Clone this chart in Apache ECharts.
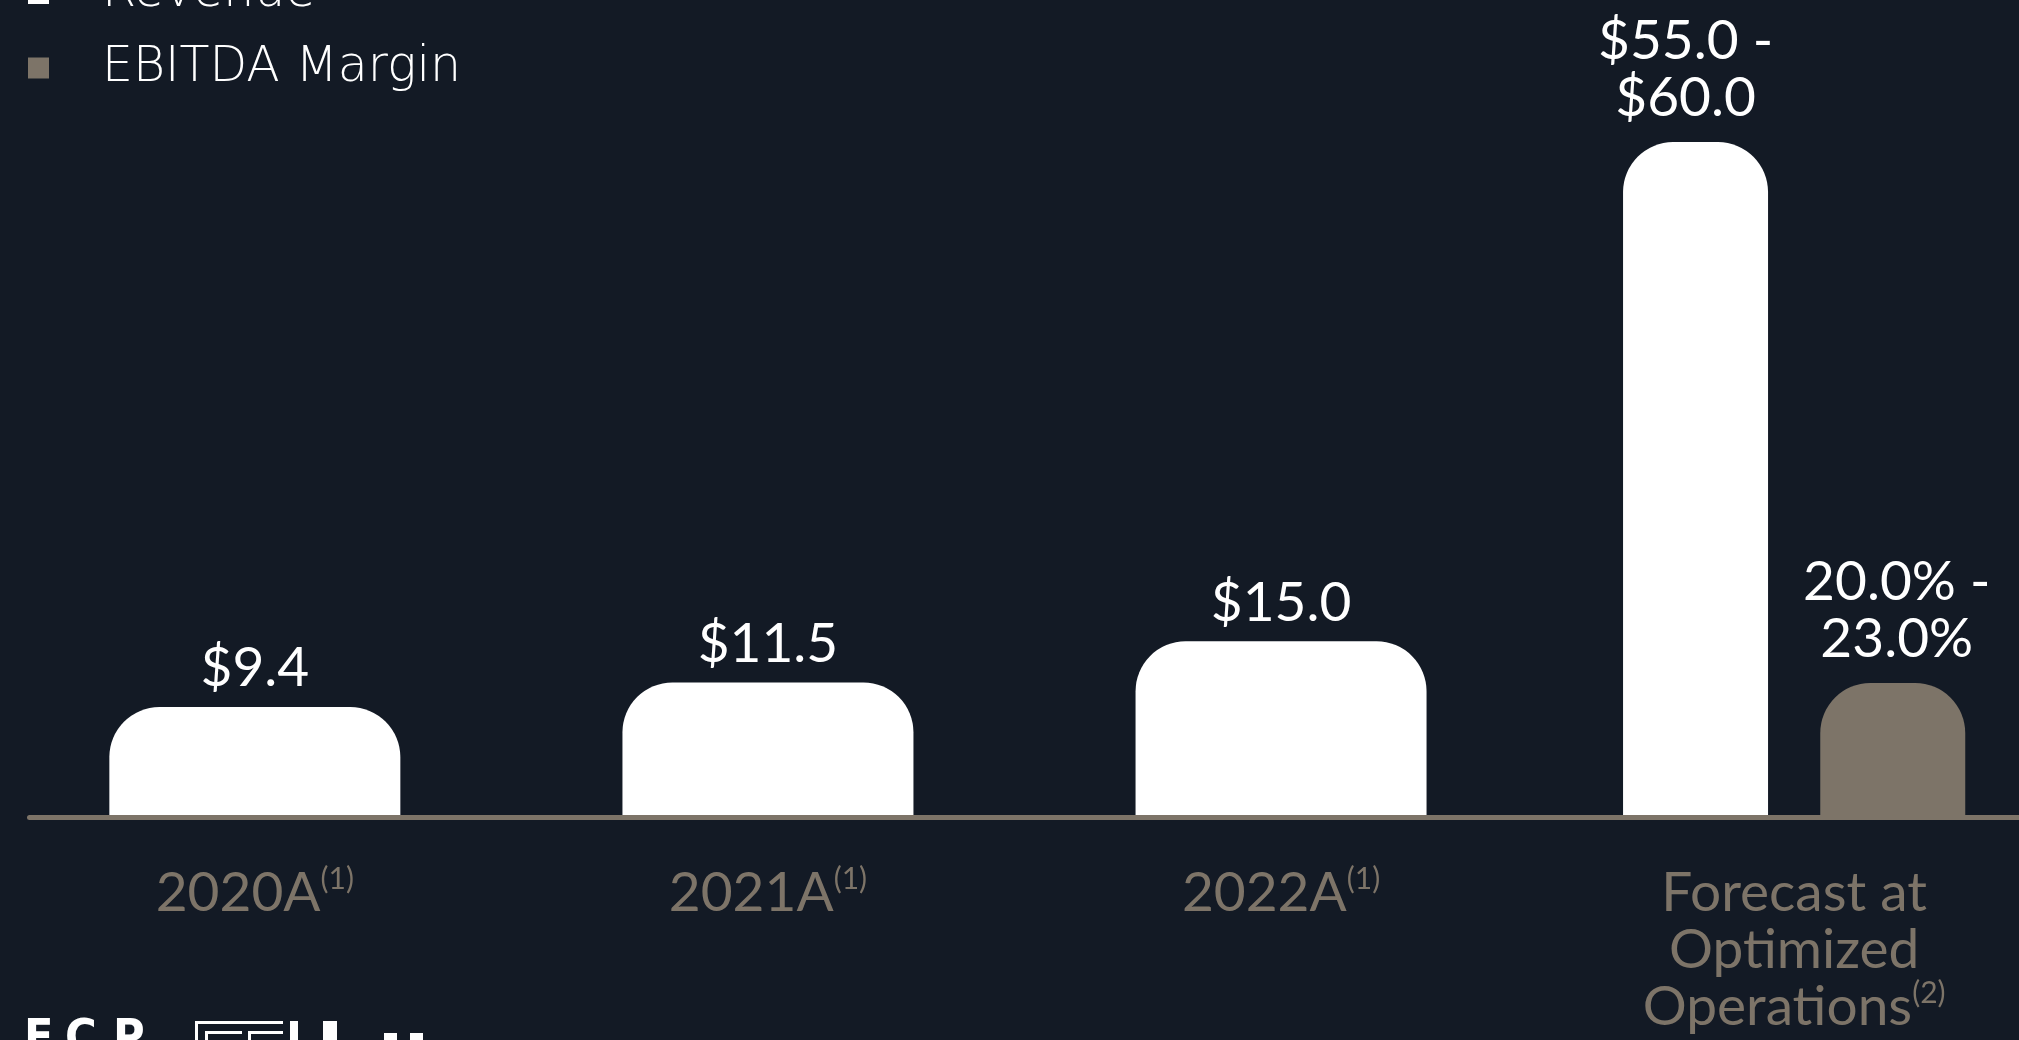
<!DOCTYPE html>
<html>
<head>
<meta charset="utf-8">
<script src="https://cdn.jsdelivr.net/npm/echarts@6/dist/echarts.min.js"></script>
<style>
  html, body { margin: 0; padding: 0; background: #131a25; }
  #chart { width: 2019px; height: 1040px; }
</style>
</head>
<body>
<div id="chart"></div>
<script>
// Revenue ($M) and EBITDA margin by period
const categories = ['2020A', '2021A', '2022A', 'Forecast at\nOptimized\nOperations'];
const footnotes = ['(1)', '(1)', '(1)', '(2)'];
const revenueActual = [9.4, 11.5, 15.0];
const revenueForecastRange = [55.0, 60.0];
const ebitdaMarginRange = [20.0, 23.0];

const BG = '#131a25';
const TAUPE = '#7d7468';
const WHITE = '#ffffff';
const LABEL_FONT = 'Lato';

const mid = (r) => (r[0] + r[1]) / 2;
const lastOnly = (v) => categories.map((_, i) => (i === categories.length - 1 ? v : '-'));

const chart = echarts.init(document.getElementById('chart'));

const valueLabel = {
  show: true,
  position: 'top',
  color: WHITE,
  fontFamily: LABEL_FONT,
  fontSize: 55,
  lineHeight: 57
};

const logoFont = { fill: WHITE, fontSize: 48, fontWeight: 'bold', fontFamily: '"Liberation Sans Narrow", "DejaVu Sans Condensed", sans-serif' };

chart.setOption({
  backgroundColor: BG,
  animation: false,
  legend: {
    orient: 'vertical',
    left: 28,
    top: -31,
    padding: 0,
    itemGap: 25.5,
    itemWidth: 21,
    itemHeight: 21,
    icon: 'rect',
    data: ['Revenue', 'EBITDA Margin'],
    textStyle: {
      color: WHITE,
      fontFamily: 'DejaVu Sans',
      fontWeight: 200,
      fontSize: 49,
      lineHeight: 44,
      padding: [0, 0, 0, 48]
    }
  },
  grid: [
    { left: -1.7, right: -31.7, top: 0, bottom: 222.5, outerBoundsMode: 'none' },
    { left: 29.5, right: 0, top: 0, bottom: 222.5, outerBoundsMode: 'none' }
  ],
  xAxis: [
    {
      type: 'category',
      gridIndex: 0,
      data: categories,
      axisLine: { show: false },
      axisTick: { show: false },
      axisLabel: {
        interval: 0,
        margin: 47,
        formatter: (value, index) => {
          const lines = value.split('\n');
          return lines
            .map((l, i) => (i === lines.length - 1 ? `{m|${l}}{s|${footnotes[index]}}` : `{m|${l}}`))
            .join('\n');
        },
        rich: {
          m: { color: TAUPE, fontFamily: LABEL_FONT, fontSize: 55, lineHeight: 57 },
          s: { color: TAUPE, fontFamily: LABEL_FONT, fontSize: 30, lineHeight: 36, verticalAlign: 'top' }
        }
      }
    },
    {
      type: 'category',
      gridIndex: 0,
      position: 'bottom',
      data: categories,
      axisLine: { show: false },
      axisTick: { show: false },
      axisLabel: { show: false }
    },
    {
      // baseline rule under the bars
      type: 'category',
      gridIndex: 1,
      data: categories,
      z: 10,
      axisLine: { show: true, lineStyle: { color: TAUPE, width: 5, cap: 'round' } },
      axisTick: { show: false },
      axisLabel: { show: false }
    }
  ],
  yAxis: [
    { type: 'value', gridIndex: 0, min: 0, max: 69.6, show: false },
    { type: 'value', gridIndex: 0, min: 0, max: 130.7, show: false },
    { type: 'value', gridIndex: 1, min: 0, max: 1, show: false }
  ],
  series: [
    {
      name: 'Revenue',
      type: 'bar',
      xAxisIndex: 0,
      yAxisIndex: 0,
      barWidth: 291,
      data: revenueActual,
      itemStyle: { color: WHITE, borderRadius: [50, 50, 0, 0] },
      label: Object.assign({}, valueLabel, {
        distance: 10,
        formatter: (p) => '$' + p.value.toFixed(1)
      })
    },
    {
      name: 'Revenue',
      type: 'bar',
      xAxisIndex: 1,
      yAxisIndex: 0,
      barWidth: 145,
      barGap: '36%',
      data: lastOnly(mid(revenueForecastRange)),
      itemStyle: { color: WHITE, borderRadius: [50, 50, 0, 0] },
      label: Object.assign({}, valueLabel, {
        distance: 15,
        offset: [-10, 0],
        formatter: () => `$${revenueForecastRange[0].toFixed(1)} -\n$${revenueForecastRange[1].toFixed(1)}`
      })
    },
    {
      name: 'EBITDA Margin',
      type: 'bar',
      xAxisIndex: 1,
      yAxisIndex: 1,
      barWidth: 145,
      barGap: '36%',
      data: lastOnly(mid(ebitdaMarginRange)),
      itemStyle: { color: TAUPE, borderRadius: [50, 50, 0, 0] },
      label: Object.assign({}, valueLabel, {
        distance: 15,
        offset: [4, 0],
        formatter: () => `${ebitdaMarginRange[0].toFixed(1)}% -\n${ebitdaMarginRange[1].toFixed(1)}%`
      })
    }
  ],
  graphic: [
    // company mark along the bottom edge
    { type: 'text', x: 24, y: 1017, style: Object.assign({ text: 'E' }, logoFont) },
    { type: 'text', x: 65, y: 1017, style: Object.assign({ text: 'C' }, logoFont) },
    { type: 'text', x: 113, y: 1017, style: Object.assign({ text: 'P' }, logoFont) },
    { type: 'polyline', shape: { points: [[196.5, 1042], [196.5, 1022.5], [283, 1022.5]] }, style: { stroke: WHITE, lineWidth: 3, fill: null } },
    { type: 'polyline', shape: { points: [[206.5, 1042], [206.5, 1032.5], [242, 1032.5]] }, style: { stroke: WHITE, lineWidth: 3, fill: null } },
    { type: 'polyline', shape: { points: [[249.5, 1042], [249.5, 1032.5], [283, 1032.5]] }, style: { stroke: WHITE, lineWidth: 3, fill: null } },
    { type: 'rect', shape: { x: 290, y: 1021, width: 8, height: 20 }, style: { fill: WHITE } },
    { type: 'rect', shape: { x: 323, y: 1021, width: 14, height: 20 }, style: { fill: WHITE } },
    { type: 'rect', shape: { x: 384, y: 1033, width: 13, height: 8 }, style: { fill: WHITE } },
    { type: 'rect', shape: { x: 410, y: 1033, width: 13, height: 8 }, style: { fill: WHITE } }
  ]
});
</script>
</body>
</html>
